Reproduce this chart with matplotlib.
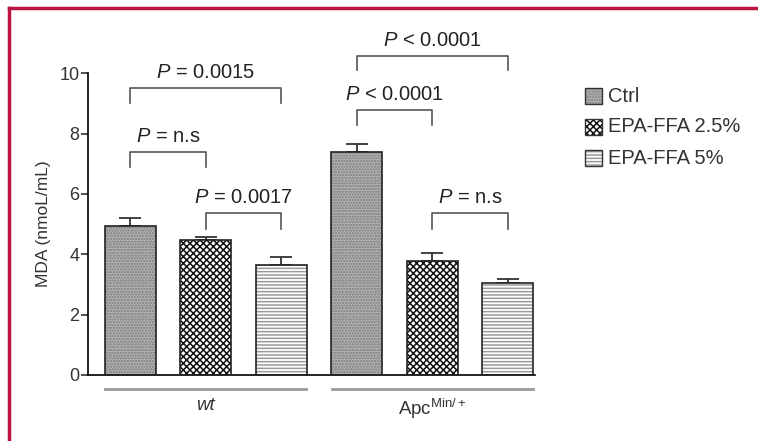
import matplotlib.pyplot as plt
from matplotlib.patches import Rectangle

plt.rcParams['font.family'] = ['Liberation Sans', 'DejaVu Sans']
plt.rcParams['mathtext.fontset'] = 'custom'
plt.rcParams['mathtext.rm'] = 'Liberation Sans'
plt.rcParams['mathtext.it'] = 'Liberation Sans:italic'
plt.rcParams['hatch.linewidth'] = 1.1

# Data
groups = ["wt", "Apc$^{\\mathrm{Min/+}}$"]
treatments = ["Ctrl", "EPA-FFA 2.5%", "EPA-FFA 5%"]
mda_wt = [4.93, 4.47, 3.64]
mda_apc = [7.38, 3.77, 3.05]
err_wt = [0.27, 0.10, 0.26]
err_apc = [0.27, 0.27, 0.13]

# comparisons: (bar i, bar j, line y, leg bottom, label)
comparisons = [
    (0, 2, 9.50, 9.00, "$P$ = 0.0015"),
    (0, 1, 7.38, 6.89, "$P$ = n.s"),
    (1, 2, 5.36, 4.83, "$P$ = 0.0017"),
    (3, 5, 10.56, 10.10, "$P$ < 0.0001"),
    (3, 4, 8.77, 8.28, "$P$ < 0.0001"),
    (4, 5, 5.36, 4.83, "$P$ = n.s"),
]

styles = [
    dict(fc="#b4b4b4", hc="#7a7a7a", hatch="......"),
    dict(fc="white", hc="#111111", hatch="xxxxx"),
    dict(fc="white", hc="#9a9a9a", hatch="-----"),
]

fig = plt.figure(figsize=(7.58, 4.41), dpi=100)
ax = fig.add_axes([0.116, 0.150, 0.590, 0.684])

values = mda_wt + mda_apc
errs = err_wt + err_apc
xs = list(range(len(values)))
w = 0.675
for x, v, e in zip(xs, values, errs):
    st = styles[x % 3]
    ax.bar(x, v, width=w, color=st["fc"], edgecolor=st["hc"], hatch=st["hatch"], linewidth=0, zorder=2)
    ax.bar(x, v, width=w, fill=False, edgecolor="#222222", linewidth=1.2, zorder=3)
    ax.errorbar(x, v, yerr=[[0], [e]], fmt="none", ecolor="#333333", elinewidth=1.3,
                capsize=8, capthick=1.3, zorder=1)

for i, j, ytop, ybot, lab in comparisons:
    ax.plot([i, i, j, j], [ybot, ytop, ytop, ybot], color="#555555", lw=1.2, clip_on=False)
    ax.text((i + j) / 2, ytop + 0.2, lab, ha="center", va="bottom", fontsize=14.5, color="#222222")

# group lines and labels
for g, lab in enumerate(groups):
    ax.plot([g * 3 - 0.33, g * 3 + 2.33], [-0.46, -0.46], color="#999999", lw=2, clip_on=False)
    style = "italic" if g == 0 else "normal"
    ax.text(g * 3 + 1, -0.72, lab, ha="center", va="top", fontsize=13.5, style=style, color="#333333")

ax.set_xlim(-0.56, 5.36)
ax.set_ylim(0, 10)
ax.set_yticks([0, 2, 4, 6, 8, 10])
ax.set_xticks([])
ax.spines["top"].set_visible(False)
ax.spines["right"].set_visible(False)
ax.spines["left"].set_linewidth(1.2)
ax.spines["bottom"].set_linewidth(1.2)
ax.tick_params(axis="y", labelsize=13, colors="#333333", length=5, width=1.2, pad=1)
ax.set_ylabel("MDA (nmoL/mL)", fontsize=12.5, color="#333333", labelpad=6)

# legend
for k, (name, st) in enumerate(zip(treatments, styles)):
    y0 = 1 - (96 + k * 31) / 441
    px, pw, ph = 585 / 758, 17 / 758, 16 / 441
    fig.patches.append(Rectangle((px, y0 - ph / 2), pw, ph, transform=fig.transFigure,
                                 facecolor=st["fc"], edgecolor=st["hc"], hatch=st["hatch"], lw=0))
    fig.patches.append(Rectangle((px, y0 - ph / 2), pw, ph, transform=fig.transFigure,
                                 fill=False, edgecolor="#333333", lw=1))
    fig.text(608 / 758, y0, name, va="center", ha="left", fontsize=14.5, color="#333333")

# crimson frame on top and left
frame = "#b8143f"
fig.add_artist(plt.Line2D([9 / 758, 1], [1 - 8 / 441, 1 - 8 / 441], color=frame, lw=2.5, transform=fig.transFigure))
fig.add_artist(plt.Line2D([9 / 758, 9 / 758], [0, 1 - 8 / 441], color=frame, lw=2.5, transform=fig.transFigure))

fig.savefig("out.png", dpi=100)
